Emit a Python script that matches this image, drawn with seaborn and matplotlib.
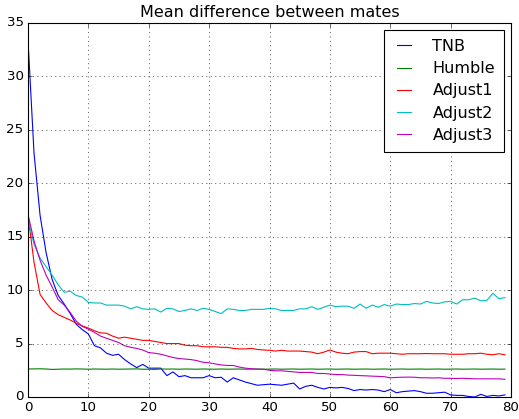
import numpy as np
import pandas as pd
import matplotlib
matplotlib.use("Agg")
import matplotlib.pyplot as plt
import seaborn as sns

title = "Mean difference between mates"
series_names = ["TNB", "Humble", "Adjust1", "Adjust2", "Adjust3"]
colors = ["b", "g", "r", "c", "m"]

tnb = [33.4, 22.8, 17.0, 13.5, 11.0, 9.5, 8.7, 7.8, 6.8, 6.3,
       5.9, 4.8, 4.6, 4.1, 3.9, 4.0, 3.5, 3.1, 2.75, 3.05,
       2.7, 2.7, 2.7, 2.0, 2.35, 1.9, 2.0, 1.8, 1.8, 1.8,
       2.0, 1.8, 1.85, 1.4, 1.8, 1.6, 1.4, 1.25, 1.1, 1.15,
       1.2, 1.15, 1.1, 1.2, 1.3, 0.75, 1.0, 1.1, 0.9, 0.75,
       0.9, 0.85, 0.9, 0.8, 0.6, 0.7, 0.65, 0.7, 0.65, 0.5,
       0.7, 0.4, 0.5, 0.55, 0.6, 0.5, 0.35, 0.35, 0.4, 0.45,
       0.2, 0.15, 0.15, 0.05, 0.0, 0.25, 0.05, 0.15, 0.1, 0.2]

humble = [2.62, 2.63, 2.64, 2.62, 2.58, 2.6, 2.62, 2.61, 2.63, 2.62,
          2.6, 2.62, 2.61, 2.6, 2.62, 2.6, 2.61, 2.62, 2.63, 2.6,
          2.6, 2.58, 2.62, 2.61, 2.62, 2.6, 2.62, 2.61, 2.6, 2.62,
          2.61, 2.6, 2.62, 2.6, 2.61, 2.62, 2.6, 2.61, 2.62, 2.6,
          2.61, 2.62, 2.6, 2.61, 2.62, 2.6, 2.61, 2.62, 2.6, 2.61,
          2.62, 2.6, 2.61, 2.62, 2.6, 2.61, 2.62, 2.6, 2.61, 2.62,
          2.6, 2.61, 2.62, 2.6, 2.61, 2.62, 2.6, 2.61, 2.62, 2.6,
          2.61, 2.62, 2.6, 2.61, 2.62, 2.6, 2.61, 2.62, 2.6, 2.61]

adjust1 = [17.0, 12.6, 9.6, 8.8, 8.1, 7.7, 7.45, 7.2, 6.9, 6.65,
           6.45, 6.2, 6.0, 5.97, 5.7, 5.5, 5.6, 5.5, 5.4, 5.3,
           5.3, 5.2, 5.1, 5.0, 5.0, 5.0, 4.85, 4.8, 4.8, 4.7,
           4.7, 4.7, 4.65, 4.65, 4.55, 4.5, 4.5, 4.55, 4.45, 4.4,
           4.37, 4.3, 4.37, 4.3, 4.3, 4.3, 4.25, 4.2, 4.05, 4.2,
           4.4, 4.2, 4.1, 4.05, 4.2, 4.25, 4.25, 4.05, 4.1, 4.1,
           4.1, 4.05, 4.0, 4.05, 4.05, 4.05, 4.07, 4.05, 4.05, 4.05,
           4.0, 4.0, 4.0, 4.05, 4.05, 4.1, 4.0, 3.95, 4.05, 3.95]

adjust2 = [16.6, 14.3, 13.0, 12.2, 11.4, 10.5, 9.8, 9.9, 9.5, 9.35,
           8.85, 8.8, 8.8, 8.6, 8.6, 8.6, 8.5, 8.25, 8.45, 8.25,
           8.2, 8.25, 7.95, 8.3, 8.25, 8.0, 8.1, 8.25, 8.1, 8.3,
           8.2, 8.0, 7.8, 8.25, 8.2, 8.1, 8.1, 8.2, 8.2, 8.2,
           8.3, 8.25, 8.1, 8.1, 8.1, 8.25, 8.25, 8.45, 8.2, 8.4,
           8.6, 8.45, 8.5, 8.5, 8.3, 8.7, 8.3, 8.6, 8.4, 8.65,
           8.5, 8.7, 8.65, 8.65, 8.75, 8.7, 8.95, 8.8, 8.75, 8.9,
           8.95, 8.7, 9.1, 9.1, 9.25, 9.0, 9.05, 9.7, 9.2, 9.3]

adjust3 = [17.1, 14.6, 12.8, 11.4, 10.3, 9.1, 8.6, 7.9, 7.1, 6.6,
           6.35, 6.05, 5.7, 5.5, 5.3, 5.1, 4.8, 4.65, 4.55, 4.4,
           4.15, 4.1, 4.0, 3.85, 3.7, 3.6, 3.55, 3.5, 3.4, 3.25,
           3.2, 3.1, 3.0, 2.95, 2.95, 2.8, 2.7, 2.65, 2.6, 2.6,
           2.5, 2.45, 2.45, 2.4, 2.35, 2.3, 2.3, 2.3, 2.2, 2.2,
           2.15, 2.1, 2.1, 2.05, 2.03, 2.0, 1.98, 1.95, 1.93, 1.9,
           1.8, 1.83, 1.85, 1.86, 1.85, 1.8, 1.8, 1.78, 1.8, 1.75,
           1.75, 1.73, 1.75, 1.73, 1.7, 1.7, 1.7, 1.7, 1.7, 1.65]

values = [tnb, humble, adjust1, adjust2, adjust3]
frames = []
for name, vals in zip(series_names, values):
    frames.append(pd.DataFrame({"x": np.arange(len(vals)), "y": vals, "series": name}))
df = pd.concat(frames, ignore_index=True)

plt.style.use("classic")
fig = plt.figure(figsize=(519 / 80, 419 / 80), dpi=80)
ax = fig.add_axes([28 / 519, 22 / 419, (511 - 28) / 519, (397 - 23) / 419])

sns.lineplot(data=df, x="x", y="y", hue="series", hue_order=series_names,
             palette=dict(zip(series_names, colors)), ax=ax, linewidth=1.0,
             estimator=None, sort=False)

ax.set_xlim(0, 80)
ax.set_ylim(0, 35)
ax.set_xticks(range(0, 81, 10))
ax.set_yticks(range(0, 36, 5))
ax.set_xlabel("")
ax.set_ylabel("")
ax.set_title(title)
ax.grid(True, color="k", linestyle=":", linewidth=0.5)
handles, labels = ax.get_legend_handles_labels()
ax.legend(handles, labels, loc="upper right", handlelength=1.45,
          handletextpad=1.05, borderpad=0.55, borderaxespad=0.45,
          labelspacing=0.45)

fig.savefig("out.png", dpi=80)
